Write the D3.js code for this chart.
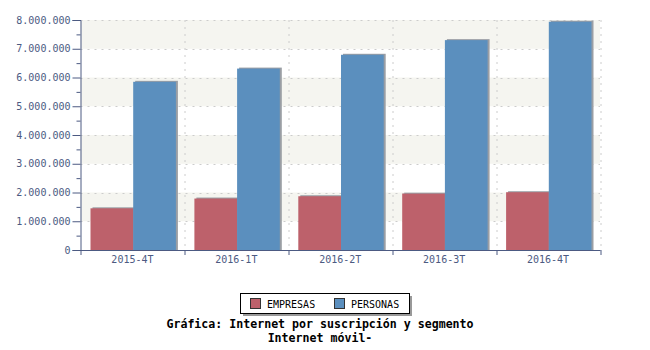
<!DOCTYPE html>
<html>
<head>
<meta charset="utf-8">
<script src="https://cdn.jsdelivr.net/npm/d3@7"></script>
<style>
  body { margin: 0; background: #fff; }
  text { font-family: "DejaVu Sans Mono", monospace; }
</style>
</head>
<body>
<div id="chart"></div>
<script>
const periods = ["2015-4T", "2016-1T", "2016-2T", "2016-3T", "2016-4T"];
const seriesNames = ["EMPRESAS", "PERSONAS"];
const empresas = [1450000, 1790000, 1870000, 1960000, 2010000];
const personas = [5850000, 6310000, 6790000, 7300000, 7940000];
const yTicks = [0, 1000000, 2000000, 3000000, 4000000, 5000000, 6000000, 7000000, 8000000];
const colors = ["#bd616b", "#5b8fbe"];

const width = 650, height = 350;
const margin = { top: 20, right: 50, bottom: 100, left: 80.5 };
const innerW = 600 - margin.left;
const innerH = 250 - margin.top;
const axisColor = "#4c5a82";

const svg = d3.select("#chart").append("svg")
    .attr("width", width)
    .attr("height", height);

const g = svg.append("g")
    .attr("transform", `translate(${margin.left}, ${margin.top})`);

const x = d3.scaleBand().domain(periods).range([0, innerW]);
const xInner = d3.scaleBand().domain(seriesNames)
    .range([10, x.bandwidth() - 8.5]);
const y = d3.scaleLinear().domain([0, 8000000]).range([innerH, 0]);

// alternating background bands
for (let i = 0; i < yTicks.length - 1; i++) {
    if (i % 2 === 1) {
        g.append("rect")
            .attr("x", 0)
            .attr("y", y(yTicks[i + 1]))
            .attr("width", innerW)
            .attr("height", y(yTicks[i]) - y(yTicks[i + 1]))
            .attr("fill", "#f5f5f0");
    }
}

// grid lines
g.selectAll(".hgrid").data(yTicks.slice(1)).enter().append("line")
    .attr("x1", 0).attr("x2", innerW)
    .attr("y1", d => Math.round(y(d)) + 0.5).attr("y2", d => Math.round(y(d)) + 0.5)
    .attr("stroke", "#cccccc")
    .attr("stroke-dasharray", "2,5");

g.selectAll(".vgrid").data(periods.slice(1).concat(["end"])).enter().append("line")
    .attr("x1", (d, i) => Math.round(i < periods.length - 1 ? x(d) : innerW) + 0.5)
    .attr("x2", (d, i) => Math.round(i < periods.length - 1 ? x(d) : innerW) + 0.5)
    .attr("y1", 0).attr("y2", innerH)
    .attr("stroke", "#cccccc")
    .attr("stroke-dasharray", "2,5");

// bars
const rows = periods.map((p, i) => ({ period: p, values: [empresas[i], personas[i]] }));
const groups = g.selectAll(".grp").data(rows).enter().append("g")
    .attr("transform", d => `translate(${x(d.period)}, 0)`);

seriesNames.forEach((name, s) => {
    groups.append("rect")
        .attr("x", xInner(name) + 2)
        .attr("y", d => y(d.values[s]) - 1)
        .attr("width", xInner.bandwidth())
        .attr("height", d => innerH - y(d.values[s]) + 1)
        .attr("fill", "#9a9ea4");
    groups.append("rect")
        .attr("x", xInner(name))
        .attr("y", d => y(d.values[s]))
        .attr("width", xInner.bandwidth())
        .attr("height", d => innerH - y(d.values[s]))
        .attr("fill", colors[s]);
});

// y axis
const fmt = d => d3.format(",")(d).replace(/,/g, ".");
const yAxis = g.append("g")
    .call(d3.axisLeft(y).tickValues(yTicks).tickFormat(fmt).tickSize(8).tickPadding(2));
g.append("g")
    .call(d3.axisLeft(y).tickValues(d3.range(500000, 8000000, 1000000)).tickFormat("").tickSize(4))
    .select(".domain").remove();

// x axis
const xAxis = g.append("g")
    .attr("transform", `translate(0, ${innerH})`)
    .call(d3.axisBottom(x).tickSize(0).tickPadding(6));
xAxis.selectAll(".tick line").remove();
xAxis.selectAll(".bound").data(periods.concat(["end"])).enter().append("line")
    .attr("x1", (d, i) => Math.round(i < periods.length ? x(d) : innerW) + 0.5)
    .attr("x2", (d, i) => Math.round(i < periods.length ? x(d) : innerW) + 0.5)
    .attr("y1", 0).attr("y2", 5)
    .attr("stroke", axisColor);

[yAxis, xAxis].forEach(ax => {
    ax.selectAll("path, line").attr("stroke", axisColor);
    ax.selectAll("text")
        .attr("fill", axisColor)
        .style("font-family", "DejaVu Sans Mono, monospace")
        .style("font-size", "10px");
});
g.selectAll(".tick line").attr("stroke", axisColor);
g.selectAll(".domain").attr("stroke", axisColor);

// legend
const legend = svg.append("g").attr("transform", "translate(240, 293)");
legend.append("rect").attr("x", 3).attr("y", 3).attr("width", 169).attr("height", 20).attr("fill", "#999");
legend.append("rect").attr("x", 0.5).attr("y", 0.5).attr("width", 169).attr("height", 20)
    .attr("fill", "#fff").attr("stroke", "#000");
seriesNames.forEach((name, i) => {
    const item = legend.append("g").attr("transform", `translate(${10 + i * 84}, 5)`);
    item.append("rect").attr("x", 0.5).attr("y", 0.5).attr("width", 10).attr("height", 10)
        .attr("fill", colors[i]).attr("stroke", "#333");
    item.append("text").attr("x", 17).attr("y", 9.5)
        .attr("font-size", "10px").attr("fill", "#000").text(name);
});

// title
const title = svg.append("text")
    .attr("x", 320).attr("text-anchor", "middle")
    .attr("font-size", "11.6px").attr("font-weight", "bold").attr("fill", "#000");
title.append("tspan").attr("x", 320).attr("y", 328).text("Gráfica: Internet por suscripción y segmento");
title.append("tspan").attr("x", 320).attr("y", 342).text("Internet móvil-");
</script>
</body>
</html>
